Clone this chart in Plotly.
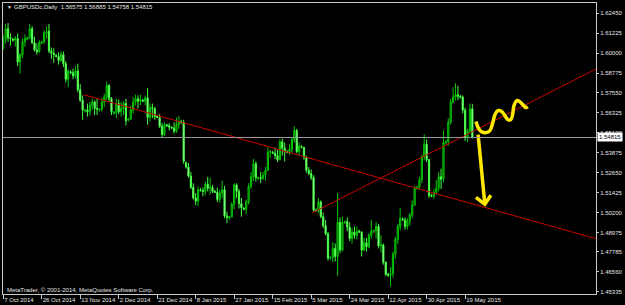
import plotly.graph_objects as go

# ---------------- data ----------------
tick_bars = [0, 16, 32, 48, 64, 80, 96, 112, 128, 144, 160, 176, 192]
tick_dates = ["7 Oct 2014", "26 Oct 2014", "13 Nov 2014", "2 Dec 2014", "21 Dec 2014",
              "8 Jan 2015", "27 Jan 2015", "15 Feb 2015", "5 Mar 2015", "24 Mar 2015",
              "12 Apr 2015", "30 Apr 2015", "19 May 2015"]

price_ticks = ["1.62450", "1.61225", "1.60000", "1.58775", "1.57550", "1.56325", "1.55100",
               "1.53875", "1.52650", "1.51425", "1.50200", "1.48975", "1.47785", "1.46560",
               "1.45335"]

opens = [
    1.6035, 1.6085, 1.6150, 1.6095, 1.6085, 1.6080, 1.6090, 1.5945, 1.5990, 1.6070,
    1.6085, 1.6095, 1.6150, 1.6065, 1.6020, 1.6010, 1.6065, 1.6070, 1.6125, 1.6135,
    1.6015, 1.6000, 1.5985, 1.5980, 1.5955, 1.5990, 1.5935, 1.5840, 1.5885, 1.5880,
    1.5860, 1.5890, 1.5775, 1.5710, 1.5645, 1.5650, 1.5640, 1.5680, 1.5700, 1.5660,
    1.5650, 1.5655, 1.5700, 1.5730, 1.5800, 1.5720, 1.5630, 1.5635, 1.5690, 1.5640,
    1.5660, 1.5690, 1.5590, 1.5595, 1.5650, 1.5700, 1.5720, 1.5705, 1.5710, 1.5705,
    1.5725, 1.5605, 1.5665, 1.5660, 1.5610, 1.5605, 1.5550, 1.5500, 1.5560, 1.5555,
    1.5545, 1.5540, 1.5520, 1.5560, 1.5580, 1.5575, 1.5325, 1.5300, 1.5245, 1.5175,
    1.5110, 1.5090, 1.5160, 1.5155, 1.5150, 1.5195, 1.5170, 1.5175, 1.5150, 1.5145,
    1.5100, 1.5140, 1.5160, 1.5000, 1.4985, 1.4995, 1.5070, 1.5190, 1.5150, 1.5075,
    1.5045, 1.5040, 1.5085, 1.5180, 1.5240, 1.5320, 1.5230, 1.5235, 1.5230, 1.5250,
    1.5280, 1.5390, 1.5390, 1.5385, 1.5370, 1.5345, 1.5455, 1.5415, 1.5395, 1.5390,
    1.5410, 1.5470, 1.5525, 1.5395, 1.5425, 1.5420, 1.5360, 1.5280, 1.5260, 1.5235,
    1.5035, 1.5030, 1.5085, 1.4995, 1.4940, 1.4890, 1.4740, 1.4745, 1.4800, 1.4750,
    1.4960, 1.4790, 1.4960, 1.4965, 1.4930, 1.4860, 1.4900, 1.4880, 1.4905, 1.4900,
    1.4790, 1.4835, 1.4810, 1.4880, 1.4905, 1.4910, 1.4935, 1.4815, 1.4820, 1.4715,
    1.4640, 1.4635, 1.4645, 1.4765, 1.4855, 1.4935, 1.4980, 1.4975, 1.4935, 1.4970,
    1.5005, 1.5065, 1.5170, 1.5175, 1.5220, 1.5365, 1.5440, 1.5345, 1.5125, 1.5120,
    1.5145, 1.5170, 1.5240, 1.5225, 1.5450, 1.5455, 1.5575, 1.5700, 1.5730, 1.5745,
    1.5735, 1.5730, 1.5650, 1.5480, 1.5520, 1.56575]

highs = [
    1.6110, 1.6180, 1.6185, 1.6120, 1.6095, 1.6105, 1.6120, 1.6000, 1.6090, 1.6115,
    1.6100, 1.6180, 1.6165, 1.6100, 1.6060, 1.6080, 1.6075, 1.6140, 1.6165, 1.6180,
    1.6035, 1.6030, 1.5995, 1.6005, 1.6010, 1.6010, 1.5950, 1.5900, 1.5895, 1.5905,
    1.5920, 1.5935, 1.5810, 1.5740, 1.5655, 1.5690, 1.5700, 1.5720, 1.5710, 1.5720,
    1.5660, 1.5725, 1.5750, 1.5825, 1.5810, 1.5730, 1.5645, 1.5720, 1.5715, 1.5700,
    1.5705, 1.5720, 1.5600, 1.5675, 1.5730, 1.5745, 1.5740, 1.5745, 1.5720, 1.5740,
    1.5785, 1.5690, 1.5690, 1.5670, 1.5620, 1.5625, 1.5570, 1.5575, 1.5565, 1.5570,
    1.5550, 1.5575, 1.5605, 1.5615, 1.5590, 1.5590, 1.5335, 1.5325, 1.5270, 1.5200,
    1.5140, 1.5180, 1.5170, 1.5175, 1.5210, 1.5240, 1.5235, 1.5190, 1.5160, 1.5175,
    1.5160, 1.5215, 1.5185, 1.5025, 1.5000, 1.5085, 1.5200, 1.5200, 1.5165, 1.5110,
    1.5055, 1.5100, 1.5200, 1.5270, 1.5350, 1.5335, 1.5240, 1.5270, 1.5270, 1.5300,
    1.5420, 1.5405, 1.5400, 1.5420, 1.5405, 1.5470, 1.5475, 1.5450, 1.5405, 1.5440,
    1.5480, 1.5550, 1.5535, 1.5450, 1.5435, 1.5425, 1.5370, 1.5300, 1.5285, 1.5250,
    1.5045, 1.5110, 1.5095, 1.5020, 1.4975, 1.4900, 1.4750, 1.4840, 1.4830, 1.5140,
    1.4990, 1.4995, 1.4970, 1.4990, 1.4960, 1.4925, 1.4935, 1.4935, 1.4915, 1.4905,
    1.4865, 1.4865, 1.4895, 1.4975, 1.4915, 1.4960, 1.4950, 1.4880, 1.4830, 1.4720,
    1.4650, 1.4685, 1.4780, 1.4870, 1.4950, 1.5050, 1.4990, 1.4990, 1.4985, 1.5020,
    1.5095, 1.5185, 1.5185, 1.5240, 1.5375, 1.5500, 1.5470, 1.5350, 1.5135, 1.5165,
    1.5220, 1.5270, 1.5290, 1.5525, 1.5465, 1.5600, 1.5720, 1.5790, 1.5815, 1.5800,
    1.5745, 1.5740, 1.5665, 1.5535, 1.5690, 1.56885]

lows = [
    1.6020, 1.6060, 1.6070, 1.6045, 1.6070, 1.6040, 1.5920, 1.5875, 1.5970, 1.6040,
    1.6080, 1.6085, 1.6055, 1.6010, 1.5990, 1.6000, 1.6055, 1.6055, 1.6090, 1.6000,
    1.5965, 1.5940, 1.5975, 1.5930, 1.5945, 1.5915, 1.5820, 1.5790, 1.5870, 1.5840,
    1.5845, 1.5760, 1.5700, 1.5590, 1.5635, 1.5610, 1.5615, 1.5650, 1.5620, 1.5620,
    1.5640, 1.5640, 1.5670, 1.5710, 1.5700, 1.5620, 1.5620, 1.5600, 1.5625, 1.5610,
    1.5620, 1.5555, 1.5580, 1.5590, 1.5630, 1.5680, 1.5660, 1.5680, 1.5700, 1.5680,
    1.5560, 1.5580, 1.5600, 1.5590, 1.5600, 1.5540, 1.5485, 1.5490, 1.5545, 1.5525,
    1.5535, 1.5505, 1.5510, 1.5535, 1.5565, 1.5320, 1.5290, 1.5235, 1.5165, 1.5100,
    1.5065, 1.5060, 1.5150, 1.5120, 1.5130, 1.5150, 1.5130, 1.5140, 1.5140, 1.5085,
    1.5080, 1.5110, 1.4985, 1.4955, 1.4975, 1.4990, 1.5040, 1.5110, 1.5045, 1.4995,
    1.5035, 1.5010, 1.5070, 1.5165, 1.5215, 1.5210, 1.5220, 1.5200, 1.5220, 1.5215,
    1.5275, 1.5355, 1.5380, 1.5350, 1.5330, 1.5340, 1.5370, 1.5335, 1.5385, 1.5375,
    1.5385, 1.5450, 1.5385, 1.5370, 1.5415, 1.5345, 1.5265, 1.5250, 1.5220, 1.5025,
    1.5025, 1.5015, 1.4985, 1.4925, 1.4880, 1.4725, 1.4730, 1.4715, 1.4720, 1.4630,
    1.4770, 1.4780, 1.4950, 1.4905, 1.4845, 1.4830, 1.4860, 1.4855, 1.4895, 1.4750,
    1.4785, 1.4780, 1.4800, 1.4860, 1.4895, 1.4860, 1.4800, 1.4775, 1.4700, 1.4630,
    1.4625, 1.4565, 1.4620, 1.4735, 1.4830, 1.4910, 1.4970, 1.4915, 1.4915, 1.4940,
    1.4985, 1.5060, 1.5160, 1.5160, 1.5200, 1.5340, 1.5330, 1.5110, 1.5115, 1.5105,
    1.5130, 1.5150, 1.5165, 1.5205, 1.5440, 1.5430, 1.5560, 1.5690, 1.5710, 1.5710,
    1.5720, 1.5630, 1.5460, 1.5455, 1.5505, 1.54758]

closes = [
    1.6085, 1.6150, 1.6095, 1.6090, 1.6080, 1.6090, 1.5945, 1.5990, 1.6070, 1.6090,
    1.6095, 1.6150, 1.6065, 1.6020, 1.6010, 1.6065, 1.6070, 1.6125, 1.6130, 1.6015,
    1.6000, 1.5990, 1.5980, 1.5955, 1.5990, 1.5935, 1.5840, 1.5890, 1.5880, 1.5860,
    1.5890, 1.5775, 1.5710, 1.5650, 1.5650, 1.5640, 1.5680, 1.5700, 1.5660, 1.5655,
    1.5655, 1.5700, 1.5730, 1.5800, 1.5720, 1.5640, 1.5635, 1.5690, 1.5640, 1.5660,
    1.5690, 1.5585, 1.5595, 1.5650, 1.5700, 1.5720, 1.5705, 1.5715, 1.5705, 1.5725,
    1.5605, 1.5665, 1.5660, 1.5610, 1.5605, 1.5550, 1.5500, 1.5560, 1.5555, 1.5545,
    1.5540, 1.5520, 1.5560, 1.5580, 1.5575, 1.5335, 1.5300, 1.5245, 1.5175, 1.5110,
    1.5090, 1.5160, 1.5155, 1.5150, 1.5195, 1.5170, 1.5175, 1.5150, 1.5145, 1.5100,
    1.5140, 1.5160, 1.5000, 1.4990, 1.4995, 1.5070, 1.5190, 1.5150, 1.5075, 1.5050,
    1.5040, 1.5085, 1.5180, 1.5240, 1.5320, 1.5235, 1.5235, 1.5230, 1.5250, 1.5280,
    1.5390, 1.5395, 1.5385, 1.5370, 1.5345, 1.5455, 1.5415, 1.5395, 1.5390, 1.5410,
    1.5470, 1.5525, 1.5395, 1.5430, 1.5420, 1.5360, 1.5280, 1.5260, 1.5235, 1.5035,
    1.5030, 1.5085, 1.4995, 1.4940, 1.4890, 1.4740, 1.4745, 1.4800, 1.4750, 1.4960,
    1.4790, 1.4960, 1.4965, 1.4930, 1.4860, 1.4900, 1.4880, 1.4905, 1.4900, 1.4790,
    1.4835, 1.4810, 1.4880, 1.4905, 1.4910, 1.4935, 1.4815, 1.4820, 1.4715, 1.4640,
    1.4635, 1.4645, 1.4765, 1.4855, 1.4935, 1.4985, 1.4975, 1.4935, 1.4970, 1.5005,
    1.5065, 1.5170, 1.5175, 1.5220, 1.5365, 1.5440, 1.5345, 1.5125, 1.5120, 1.5145,
    1.5170, 1.5240, 1.5225, 1.5450, 1.5455, 1.5575, 1.5700, 1.5730, 1.5745, 1.5735,
    1.5730, 1.5650, 1.5480, 1.5520, 1.5657, 1.54815]

last_price = 1.54815
title_text = "GBPUSDc,Daily  1.56575 1.56885 1.54758 1.54815"
copyright_text = "MetaTrader, \u00a9 2001-2014, MetaQuotes Software Corp."

# user-drawn trend lines (bar index, price)
trend1_bars = [33.4, 246.4]
trend1_prices = [1.57446, 1.48595]
trend2_bars = [128.3, 246.4]
trend2_prices = [1.50175, 1.59020]

# yellow hand drawings (bar index, price)
squiggle_bars = [196.5, 197.4, 198.6, 200.7, 202.3, 203.5, 204.4, 205.6, 207.3, 208.5,
                 209.8, 211.0, 211.8, 212.3, 213.5, 214.7, 216.0, 217.2, 218.0]
squiggle_prices = [1.55792, 1.55425, 1.55180, 1.55118, 1.55241, 1.55731, 1.56221, 1.56466,
                   1.56405, 1.56160, 1.55915, 1.55915, 1.56282, 1.56772, 1.57078, 1.57017,
                   1.56833, 1.56650, 1.56711]
arrow_bars = [197.4, 200.2, None, 196.5, 200.2, 202.7]
arrow_prices = [1.54996, 1.50708, None, 1.51137, 1.50708, 1.51260]

bars = list(range(len(closes)))

# ---------------- figure ----------------
fig = go.Figure()

fig.add_trace(go.Candlestick(
    x=bars, open=opens, high=highs, low=lows, close=closes,
    increasing=dict(line=dict(color="#00c800", width=1), fillcolor="#005a00"),
    decreasing=dict(line=dict(color="#40ff40", width=1), fillcolor="#e8ffe8"),
    whiskerwidth=0, hoverinfo="skip", showlegend=False))

for bx, py in ((trend1_bars, trend1_prices), (trend2_bars, trend2_prices)):
    fig.add_trace(go.Scatter(x=bx, y=py, mode="lines",
                             line=dict(color="#c80000", width=1),
                             hoverinfo="skip", showlegend=False))

fig.add_trace(go.Scatter(x=squiggle_bars, y=squiggle_prices, mode="lines",
                         line=dict(color="#ffe800", width=3.5, shape="spline"),
                         hoverinfo="skip", showlegend=False))
fig.add_trace(go.Scatter(x=arrow_bars, y=arrow_prices, mode="lines",
                         line=dict(color="#ffe800", width=3.5),
                         hoverinfo="skip", showlegend=False))

fig.add_shape(type="line", xref="paper", x0=0, x1=1, yref="y", y0=last_price, y1=last_price,
              line=dict(color="#9a9a9a", width=1))

font_main = "Liberation Sans, Arial, sans-serif"
txt_col = "#e6e6e6"

fig.update_layout(
    width=625, height=305,
    margin=dict(l=2, r=26, t=2, b=11),
    paper_bgcolor="black", plot_bgcolor="black",
    font=dict(family=font_main, size=6, color=txt_col),
    xaxis=dict(range=[-0.1, 246.4], showgrid=False, zeroline=False,
               showline=True, linecolor="#c8c8c8", linewidth=1, mirror=True,
               ticks="outside", ticklen=4, tickcolor="#c8c8c8",
               tickvals=tick_bars, ticktext=tick_dates, tickangle=0,
               ticklabelposition="outside right",
               tickfont=dict(size=6, color=txt_col, family=font_main),
               rangeslider=dict(visible=False), fixedrange=True),
    yaxis=dict(side="right", range=[1.45196, 1.63081], showgrid=False, zeroline=False,
               showline=True, linecolor="#c8c8c8", linewidth=1, mirror=True,
               ticks="outside", ticklen=2, tickcolor="#c8c8c8",
               tickvals=[float(t) for t in price_ticks], ticktext=price_ticks,
               tickfont=dict(size=6, color=txt_col, family=font_main), fixedrange=True),
    showlegend=False,
)

fig.add_annotation(xref="paper", yref="paper", x=0.0035, y=0.9846, xanchor="left",
                   yanchor="middle", text="\u25bc", showarrow=False,
                   font=dict(size=5, color=txt_col, family=font_main))
fig.add_annotation(xref="paper", yref="paper", x=0.0151, y=0.9846, xanchor="left",
                   yanchor="middle", text=title_text, showarrow=False,
                   font=dict(size=6, color=txt_col, family=font_main))
fig.add_annotation(xref="paper", yref="paper", x=0.0034, y=0.0154, xanchor="left",
                   yanchor="middle", text=copyright_text, showarrow=False,
                   font=dict(size=6, color=txt_col, family=font_main))
fig.add_annotation(xref="paper", yref="y", x=1, y=last_price, xanchor="left",
                   yanchor="middle", xshift=1, text=f"{last_price:.5f}", showarrow=False,
                   bgcolor="white", borderpad=1,
                   font=dict(size=6, color="black", family=font_main))

fig.write_html("out.html")
